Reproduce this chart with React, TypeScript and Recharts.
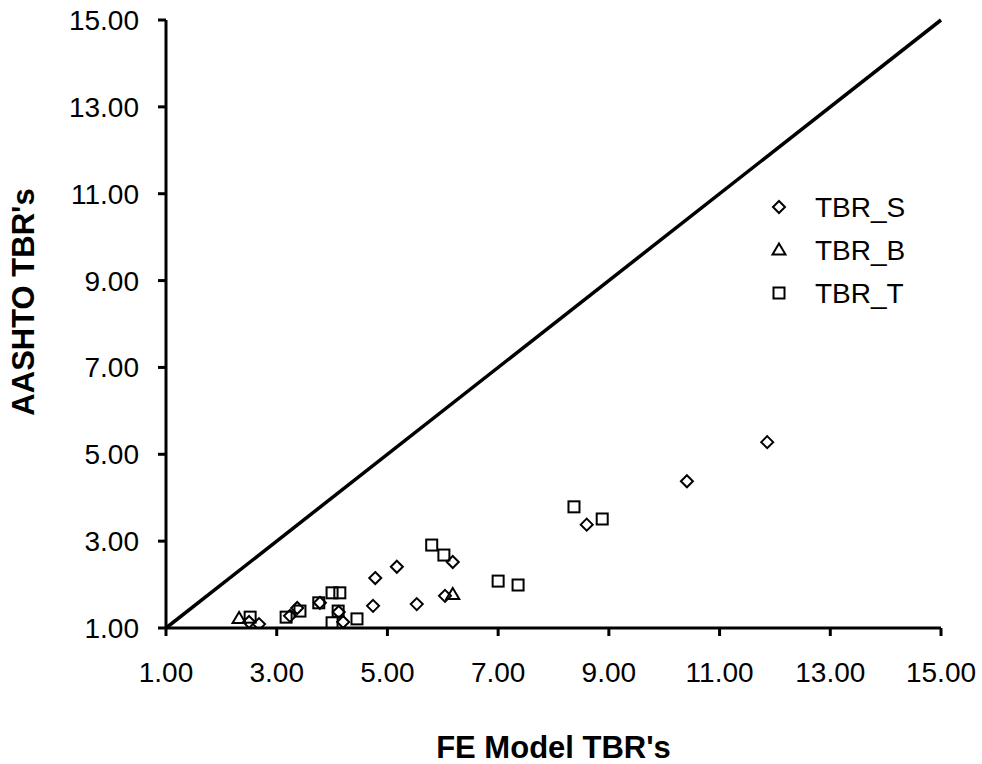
import {
  ScatterChart,
  Scatter,
  XAxis,
  YAxis,
  ReferenceLine,
} from 'recharts';

// FE model TBR (x) vs AASHTO TBR (y)
const tbrS = [
  { x: 2.5, y: 1.14 },
  { x: 2.68, y: 1.09 },
  { x: 3.24, y: 1.28 },
  { x: 3.37, y: 1.46 },
  { x: 3.78, y: 1.58 },
  { x: 4.12, y: 1.37 },
  { x: 4.2, y: 1.14 },
  { x: 4.74, y: 1.51 },
  { x: 4.78, y: 2.15 },
  { x: 5.17, y: 2.41 },
  { x: 5.53, y: 1.55 },
  { x: 6.04, y: 1.74 },
  { x: 6.18, y: 2.52 },
  { x: 8.6, y: 3.38 },
  { x: 10.41, y: 4.38 },
  { x: 11.86, y: 5.28 },
];

const tbrB = [
  { x: 2.32, y: 1.22 },
  { x: 6.18, y: 1.77 },
];

const tbrT = [
  { x: 2.52, y: 1.25 },
  { x: 3.17, y: 1.25 },
  { x: 3.42, y: 1.39 },
  { x: 3.76, y: 1.58 },
  { x: 4.0, y: 1.81 },
  { x: 4.14, y: 1.81 },
  { x: 4.11, y: 1.39 },
  { x: 4.0, y: 1.12 },
  { x: 4.45, y: 1.21 },
  { x: 5.8, y: 2.91 },
  { x: 6.02, y: 2.68 },
  { x: 7.0, y: 2.08 },
  { x: 7.36, y: 1.99 },
  { x: 8.37, y: 3.79 },
  { x: 8.88, y: 3.51 },
];

const ticks = [1, 3, 5, 7, 9, 11, 13, 15];
const equalityLine = [
  { x: 1, y: 1 },
  { x: 15, y: 15 },
];

const FONT = '"Liberation Sans", Arial, sans-serif';

type Mark = 'diamond' | 'triangle' | 'square';

function drawMark(kind: Mark, cx: number, cy: number) {
  if (kind === 'diamond') {
    const r = 6;
    return (
      <path
        d={`M${cx},${cy - r}L${cx + r},${cy}L${cx},${cy + r}L${cx - r},${cy}Z`}
        fill="none"
        stroke="#000"
        strokeWidth={2}
      />
    );
  }
  if (kind === 'triangle') {
    const r = 6.5;
    return (
      <path
        d={`M${cx},${cy - r}L${cx + r},${cy + r * 0.7}L${cx - r},${cy + r * 0.7}Z`}
        fill="none"
        stroke="#000"
        strokeWidth={2}
      />
    );
  }
  return (
    <rect x={cx - 5.5} y={cy - 5.5} width={11} height={11} fill="none" stroke="#000" strokeWidth={2} />
  );
}

const shapeFor = (kind: Mark) => (props: any) => drawMark(kind, props.cx, props.cy);

const legendItems: { name: string; kind: Mark }[] = [
  { name: 'TBR_S', kind: 'diamond' },
  { name: 'TBR_B', kind: 'triangle' },
  { name: 'TBR_T', kind: 'square' },
];

function LegendBox() {
  return (
    <svg width={160} height={130} style={{ position: 'absolute', left: 769, top: 193 }}>
      {legendItems.map((it, i) => (
        <g key={it.name}>
          {drawMark(it.kind, 10, 14 + i * 43)}
          <text x={46} y={14 + i * 43} dy="0.35em" fontSize={28} fontFamily={FONT} fill="#000">
            {it.name}
          </text>
        </g>
      ))}
    </svg>
  );
}

function YTitle(props: any) {
  const { viewBox } = props;
  const cx = viewBox.x + 23;
  const cy = viewBox.y + viewBox.height / 2 - 22;
  return (
    <text
      x={cx}
      y={cy}
      transform={`rotate(-90 ${cx} ${cy})`}
      textAnchor="middle"
      dominantBaseline="central"
      fontSize={31}
      fontWeight="bold"
      fontFamily={FONT}
      fill="#000"
    >
      AASHTO TBR's
    </text>
  );
}

function XTitle(props: any) {
  const { viewBox } = props;
  const cx = viewBox.x + viewBox.width / 2;
  return (
    <text
      x={cx}
      y={viewBox.y + 119}
      textAnchor="middle"
      dominantBaseline="central"
      fontSize={31}
      fontWeight="bold"
      fontFamily={FONT}
      fill="#000"
    >
      FE Model TBR's
    </text>
  );
}

export default function App() {
  const tick = { fill: '#000', fontSize: 28, fontFamily: FONT };
  const fmt = (v: number) => v.toFixed(2);
  return (
    <div style={{ position: 'relative', width: 982, height: 764, background: '#fff' }}>
      <style>{`body { margin: 0; }`}</style>
      <ScatterChart width={982} height={764} margin={{ top: 20, right: 41, left: 0, bottom: 0 }}>
        <XAxis
          type="number"
          dataKey="x"
          domain={[1, 15]}
          ticks={ticks}
          tickFormatter={fmt}
          height={136}
          allowDataOverflow
          axisLine={{ stroke: '#000', strokeWidth: 3 }}
          tickLine={{ stroke: '#000', strokeWidth: 3 }}
          tickSize={8}
          tickMargin={26}
          tick={tick}
          label={<XTitle />}
        />
        <YAxis
          type="number"
          dataKey="y"
          domain={[1, 15]}
          ticks={ticks}
          tickFormatter={fmt}
          width={166}
          allowDataOverflow
          axisLine={{ stroke: '#000', strokeWidth: 3 }}
          tickLine={{ stroke: '#000', strokeWidth: 3 }}
          tickSize={8}
          tickMargin={19}
          tick={tick}
          label={<YTitle />}
        />
        <ReferenceLine
          segment={equalityLine}
          stroke="#000"
          strokeWidth={3.5}
          ifOverflow="visible"
        />
        <Scatter name="TBR_S" data={tbrS} shape={shapeFor('diamond')} isAnimationActive={false} />
        <Scatter name="TBR_B" data={tbrB} shape={shapeFor('triangle')} isAnimationActive={false} />
        <Scatter name="TBR_T" data={tbrT} shape={shapeFor('square')} isAnimationActive={false} />
      </ScatterChart>
      <LegendBox />
    </div>
  );
}
